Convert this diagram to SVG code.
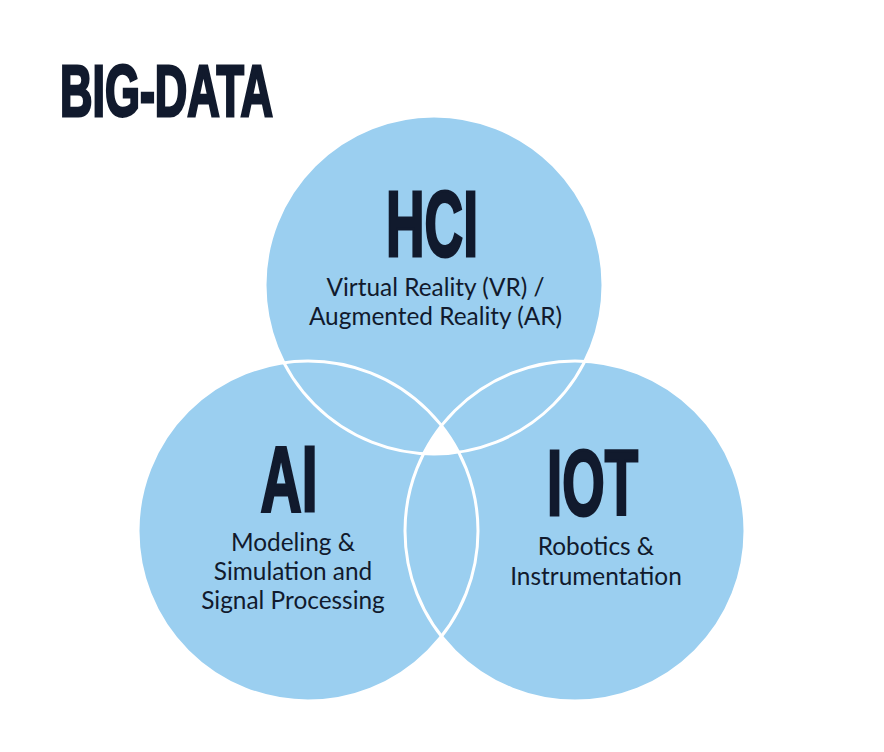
<svg xmlns="http://www.w3.org/2000/svg" width="884" height="752" viewBox="0 0 884 752">
  <style>
    .fill { fill: #9BCFF0; }
    .edge { fill: none; stroke: #FFFFFF; stroke-width: 3; }
    .big { font-family: "Liberation Sans", Arial, sans-serif; font-weight: 700; fill: #111A2D; stroke: #111A2D; stroke-width: 3; stroke-linejoin: miter; }
    .sub { font-family: Lato, "Noto Sans", "Liberation Sans", sans-serif; font-size: 24.4px; fill: #111A2D; text-anchor: middle; }
  </style>
  <defs>
    <clipPath id="clipAI"><circle cx="308" cy="531" r="170"/></clipPath>
    <clipPath id="clipIOT"><circle cx="575" cy="531" r="170"/></clipPath>
  </defs>
  <rect width="884" height="752" fill="#FFFFFF"/>

  <g id="title">
    <text class="big" x="60" y="115.5" font-size="72.6" textLength="213" lengthAdjust="spacingAndGlyphs">BIG-DATA</text>
  </g>

  <g id="fills">
    <circle class="fill" cx="434" cy="285" r="169"/>
    <circle class="fill" cx="308" cy="531" r="170"/>
    <circle class="fill" cx="575" cy="531" r="170"/>
  </g>

  <g id="center-overlap" clip-path="url(#clipAI)">
    <circle cx="434" cy="285" r="169" fill="#FFFFFF" clip-path="url(#clipIOT)"/>
  </g>

  <g id="connectors">
    <circle class="edge" cx="434" cy="285" r="169"/>
    <circle class="edge" cx="308" cy="531" r="170"/>
    <circle class="edge" cx="575" cy="531" r="170"/>
  </g>

  <g id="node-hci">
    <text class="big" x="386" y="255.5" font-size="93.6" textLength="92" lengthAdjust="spacingAndGlyphs">HCI</text>
    <text class="sub" x="435.5" y="295.5">Virtual Reality (VR) /</text>
    <text class="sub" x="435.5" y="324.5">Augmented Reality (AR)</text>
  </g>

  <g id="node-ai">
    <text class="big" x="260.5" y="510.5" font-size="92" textLength="57" lengthAdjust="spacingAndGlyphs">AI</text>
    <text class="sub" x="293" y="551">Modeling &amp;</text>
    <text class="sub" x="293" y="580">Simulation and</text>
    <text class="sub" x="293" y="609">Signal Processing</text>
  </g>

  <g id="node-iot">
    <text class="big" x="547" y="514.5" font-size="93.6" textLength="91" lengthAdjust="spacingAndGlyphs">IOT</text>
    <text class="sub" x="596" y="554.5">Robotics &amp;</text>
    <text class="sub" x="596" y="584.5">Instrumentation</text>
  </g>
</svg>
